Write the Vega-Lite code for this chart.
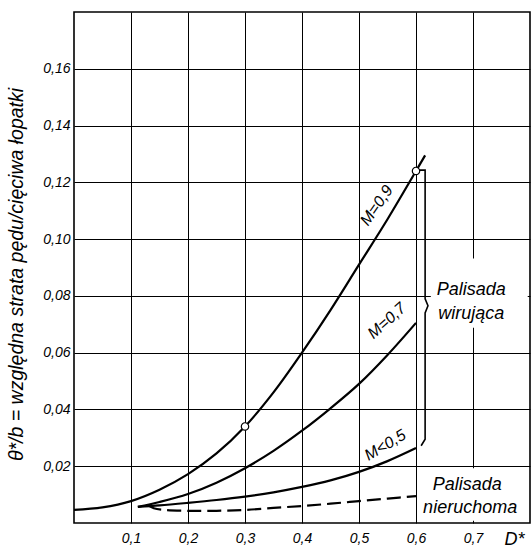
{
  "$schema": "https://vega.github.io/schema/vega-lite/v6.json",
  "width": 456,
  "height": 511,
  "autosize": {"type": "none"},
  "padding": {"left": 74, "top": 12, "right": 1, "bottom": 28},
  "background": "white",
  "config": {
    "view": {"stroke": "black", "strokeWidth": 1.6},
    "font": "Liberation Sans",
    "axis": {
      "grid": true, "gridColor": "black", "gridWidth": 1, "gridOpacity": 1,
      "ticks": false, "domain": false,
      "labelFont": "Liberation Sans", "labelFontStyle": "italic", "labelFontSize": 14, "labelColor": "black",
      "titleFont": "Liberation Sans", "titleFontStyle": "italic", "titleFontWeight": "normal", "titleColor": "black"
    }
  },
  "datasets": {
    "curves": [
      {"series": "M=0,9", "x": 0.0, "y": 0.0046},
      {"series": "M=0,9", "x": 0.05, "y": 0.0055},
      {"series": "M=0,9", "x": 0.1, "y": 0.0077},
      {"series": "M=0,9", "x": 0.15, "y": 0.0117},
      {"series": "M=0,9", "x": 0.2, "y": 0.0172},
      {"series": "M=0,9", "x": 0.25, "y": 0.0245},
      {"series": "M=0,9", "x": 0.3, "y": 0.034},
      {"series": "M=0,9", "x": 0.35, "y": 0.046},
      {"series": "M=0,9", "x": 0.4, "y": 0.06},
      {"series": "M=0,9", "x": 0.45, "y": 0.075},
      {"series": "M=0,9", "x": 0.5, "y": 0.091},
      {"series": "M=0,9", "x": 0.55, "y": 0.107},
      {"series": "M=0,9", "x": 0.6, "y": 0.124},
      {"series": "M=0,9", "x": 0.616, "y": 0.1295},
      {"series": "M=0,7", "x": 0.112, "y": 0.0057},
      {"series": "M=0,7", "x": 0.15, "y": 0.0074},
      {"series": "M=0,7", "x": 0.2, "y": 0.0102},
      {"series": "M=0,7", "x": 0.25, "y": 0.0142},
      {"series": "M=0,7", "x": 0.3, "y": 0.0193},
      {"series": "M=0,7", "x": 0.35, "y": 0.0254},
      {"series": "M=0,7", "x": 0.4, "y": 0.0325},
      {"series": "M=0,7", "x": 0.45, "y": 0.0404},
      {"series": "M=0,7", "x": 0.5, "y": 0.049},
      {"series": "M=0,7", "x": 0.55, "y": 0.0592},
      {"series": "M=0,7", "x": 0.6, "y": 0.0705},
      {"series": "M<0,5", "x": 0.112, "y": 0.0057},
      {"series": "M<0,5", "x": 0.15, "y": 0.0062},
      {"series": "M<0,5", "x": 0.2, "y": 0.0071},
      {"series": "M<0,5", "x": 0.25, "y": 0.0081},
      {"series": "M<0,5", "x": 0.3, "y": 0.0093},
      {"series": "M<0,5", "x": 0.35, "y": 0.0108},
      {"series": "M<0,5", "x": 0.4, "y": 0.0127},
      {"series": "M<0,5", "x": 0.45, "y": 0.015},
      {"series": "M<0,5", "x": 0.5, "y": 0.018},
      {"series": "M<0,5", "x": 0.55, "y": 0.0218},
      {"series": "M<0,5", "x": 0.6, "y": 0.0264}
    ],
    "fixed": [
      {"x": 0.13, "y": 0.0062},
      {"x": 0.14, "y": 0.0052},
      {"x": 0.16, "y": 0.0046},
      {"x": 0.2, "y": 0.0043},
      {"x": 0.25, "y": 0.0043},
      {"x": 0.3, "y": 0.0046},
      {"x": 0.35, "y": 0.0053},
      {"x": 0.4, "y": 0.006},
      {"x": 0.45, "y": 0.0068},
      {"x": 0.5, "y": 0.0077},
      {"x": 0.55, "y": 0.0086},
      {"x": 0.6, "y": 0.0095}
    ],
    "brace": [
      {"i": 1, "x": 0.604, "y": 0.1243},
      {"i": 2, "x": 0.616, "y": 0.1243},
      {"i": 3, "x": 0.616, "y": 0.079},
      {"i": 4, "x": 0.621, "y": 0.0765},
      {"i": 5, "x": 0.616, "y": 0.074},
      {"i": 6, "x": 0.616, "y": 0.0295},
      {"i": 7, "x": 0.609, "y": 0.0272}
    ],
    "points": [
      {"x": 0.3, "y": 0.034},
      {"x": 0.6, "y": 0.124}
    ],
    "boxes": [
      {"x": 0.626, "x2": 0.796, "y": 0.0688, "y2": 0.0932},
      {"x": 0.604, "x2": 0.796, "y": 0.0008, "y2": 0.0193}
    ],
    "notes": [
      {"text": "Palisada", "x": 0.697, "y": 0.082},
      {"text": "wirująca", "x": 0.697, "y": 0.0737},
      {"text": "Palisada", "x": 0.69, "y": 0.0133},
      {"text": "nieruchoma", "x": 0.695, "y": 0.0052}
    ],
    "curvelabels": [
      {"text": "M=0,9", "x": 0.531, "y": 0.1118},
      {"text": "M=0,7", "x": 0.549, "y": 0.0712},
      {"text": "M<0,5", "x": 0.546, "y": 0.0274}
    ]
  },
  "layer": [
    {
      "data": {"name": "boxes"},
      "mark": {"type": "rect", "fill": "white", "stroke": null},
      "encoding": {
        "x": {"field": "x", "type": "quantitative", "scale": {"domain": [0, 0.8], "nice": false, "zero": false},
          "axis": {"values": [0.1, 0.2, 0.3, 0.4, 0.5, 0.6, 0.7], "labelExpr": "replace(format(datum.value, '.1f'), '.', ',')", "labelPadding": 8,
            "title": "D*", "titleFontSize": 18, "titleX": 440, "titleY": 16, "titleAlign": "center", "titleBaseline": "middle"}},
        "x2": {"field": "x2"},
        "y": {"field": "y", "type": "quantitative", "scale": {"domain": [0, 0.18], "nice": false, "zero": false},
          "axis": {"values": [0.02, 0.04, 0.06, 0.08, 0.1, 0.12, 0.14, 0.16], "labelExpr": "replace(format(datum.value, '.2f'), '.', ',')", "labelPadding": 4,
            "title": "θ*/b = względna strata pędu/cięciwa łopatki", "titleFontSize": 19.5, "titleX": -48, "titleY": 262, "titleAlign": "center"}},
        "y2": {"field": "y2"}
      }
    },
    {
      "data": {"name": "curves"},
      "mark": {"type": "line", "color": "black", "strokeWidth": 2.2, "interpolate": "catmull-rom"},
      "encoding": {
        "x": {"field": "x", "type": "quantitative"},
        "y": {"field": "y", "type": "quantitative"},
        "detail": {"field": "series"}
      }
    },
    {
      "data": {"name": "fixed"},
      "mark": {"type": "line", "color": "black", "strokeWidth": 2.2, "strokeDash": [14, 6], "interpolate": "catmull-rom"},
      "encoding": {
        "x": {"field": "x", "type": "quantitative"},
        "y": {"field": "y", "type": "quantitative"}
      }
    },
    {
      "data": {"name": "brace"},
      "mark": {"type": "line", "color": "black", "strokeWidth": 1.6},
      "encoding": {
        "x": {"field": "x", "type": "quantitative"},
        "y": {"field": "y", "type": "quantitative"},
        "order": {"field": "i"}
      }
    },
    {
      "data": {"name": "points"},
      "mark": {"type": "point", "shape": "circle", "filled": true, "fill": "white", "stroke": "black", "strokeWidth": 1.2, "size": 55, "opacity": 1},
      "encoding": {
        "x": {"field": "x", "type": "quantitative"},
        "y": {"field": "y", "type": "quantitative"}
      }
    },
    {
      "data": {"name": "notes"},
      "mark": {"type": "text", "fontStyle": "italic", "fontSize": 18, "color": "black", "align": "center", "baseline": "middle"},
      "encoding": {
        "x": {"field": "x", "type": "quantitative"},
        "y": {"field": "y", "type": "quantitative"},
        "text": {"field": "text"}
      }
    },
    {
      "data": {"name": "curvelabels"},
      "transform": [{"filter": "datum.text == 'M=0,9'"}],
      "mark": {"type": "text", "fontStyle": "italic", "fontSize": 16, "color": "black", "align": "center", "baseline": "middle", "angle": 305},
      "encoding": {
        "x": {"field": "x", "type": "quantitative"},
        "y": {"field": "y", "type": "quantitative"},
        "text": {"field": "text"}
      }
    },
    {
      "data": {"name": "curvelabels"},
      "transform": [{"filter": "datum.text == 'M=0,7'"}],
      "mark": {"type": "text", "fontStyle": "italic", "fontSize": 16, "color": "black", "align": "center", "baseline": "middle", "angle": 318},
      "encoding": {
        "x": {"field": "x", "type": "quantitative"},
        "y": {"field": "y", "type": "quantitative"},
        "text": {"field": "text"}
      }
    },
    {
      "data": {"name": "curvelabels"},
      "transform": [{"filter": "datum.text == 'M<0,5'"}],
      "mark": {"type": "text", "fontStyle": "italic", "fontSize": 16, "color": "black", "align": "center", "baseline": "middle", "angle": 329},
      "encoding": {
        "x": {"field": "x", "type": "quantitative"},
        "y": {"field": "y", "type": "quantitative"},
        "text": {"field": "text"}
      }
    }
  ]
}
